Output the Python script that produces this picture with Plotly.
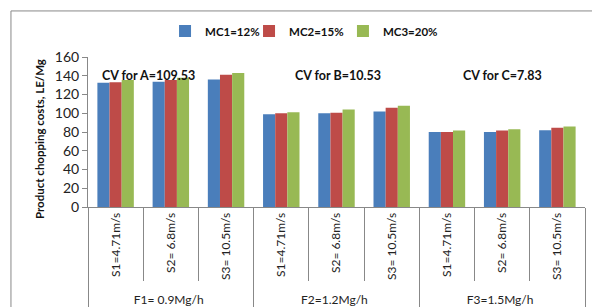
import plotly.graph_objects as go

outer = ["F1= 0.9Mg/h"] * 3 + ["F2=1.2Mg/h"] * 3 + ["F3=1.5Mg/h"] * 3
inner = ["S1=4.71m/s", "S2= 6.8m/s", "S3= 10.5m/s"] * 3
mc1 = [132.5, 133.5, 136, 99, 100, 102, 80, 80, 82]
mc2 = [133, 135.5, 141, 100, 100.5, 106, 80, 81.5, 84.5]
mc3 = [135.5, 138, 143, 101, 104, 108, 81.5, 83, 86]
series = [("MC1=12%", mc1, "#4A7EBB"), ("MC2=15%", mc2, "#BE4B48"), ("MC3=20%", mc3, "#98B954")]
cv_texts = ["CV for A=109.53", "CV for B=10.53", "CV for C=7.83"]
y_title = "Product chopping costs, LE/Mg"

font = "Lato"
legend_ids = ["legend", "legend2", "legend3"]
legend_x = [0.155, 0.324, 0.513]

fig = go.Figure()
for (name, vals, col), lid in zip(series, legend_ids):
    fig.add_trace(go.Bar(x=[outer, inner], y=vals, name="<b>%s</b>" % name, legend=lid,
                         marker=dict(color=col, line=dict(width=0))))

fig.update_layout(
    width=592, height=307,
    margin=dict(l=88, r=7, t=57, b=100, autoexpand=False),
    paper_bgcolor="white", plot_bgcolor="white",
    barmode="group", bargap=0.34, bargroupgap=0,
    font=dict(family=font, color="#222", size=13),
    showlegend=True,
)
for lid, lx in zip(legend_ids, legend_x):
    fig.update_layout({lid: dict(orientation="h", x=lx, y=1.173, xanchor="left", yanchor="middle",
                                 font=dict(size=11.5, family=font, color="#111"),
                                 itemwidth=30, bgcolor="rgba(0,0,0,0)")})

fig.update_yaxes(range=[0, 160], dtick=20, showgrid=False, showline=True, linecolor="#888",
                 ticks="outside", ticklen=5, tickcolor="#888", tickfont=dict(size=14),
                 automargin=False)
fig.update_xaxes(type="multicategory", showline=True, linecolor="#888", ticks="outside",
                 tickson="boundaries", ticklen=73, tickcolor="#888", tickangle=-90,
                 automargin=False,
                 tickfont=dict(size=12), showdividers=True, dividercolor="#888", dividerwidth=1)

fig.add_annotation(x=-0.0986, y=0.453, xref="paper", yref="paper", textangle=-90,
                   text="<b>%s</b>" % y_title, showarrow=False, xanchor="center", yanchor="middle",
                   font=dict(size=11.5, family=font, color="#111"))

xs_paper = [0.1217, 0.504, 0.833]
for t, xp in zip(cv_texts, xs_paper):
    fig.add_annotation(x=xp, y=0.88, xref="paper", yref="paper", yanchor="middle", xanchor="center",
                       text="<b>%s</b>" % t, showarrow=False,
                       font=dict(size=12.5, family=font, color="#111"))

fig.add_shape(type="rect", xref="paper", yref="paper", x0=-0.155, x1=1.05, y0=-0.7, y1=1.307,
              line=dict(color="#888", width=1), fillcolor="rgba(0,0,0,0)", layer="below")

fig.write_html("out.html", config={"displayModeBar": False},
               post_script="document.body.style.margin='0';document.body.style.overflow='hidden';")
